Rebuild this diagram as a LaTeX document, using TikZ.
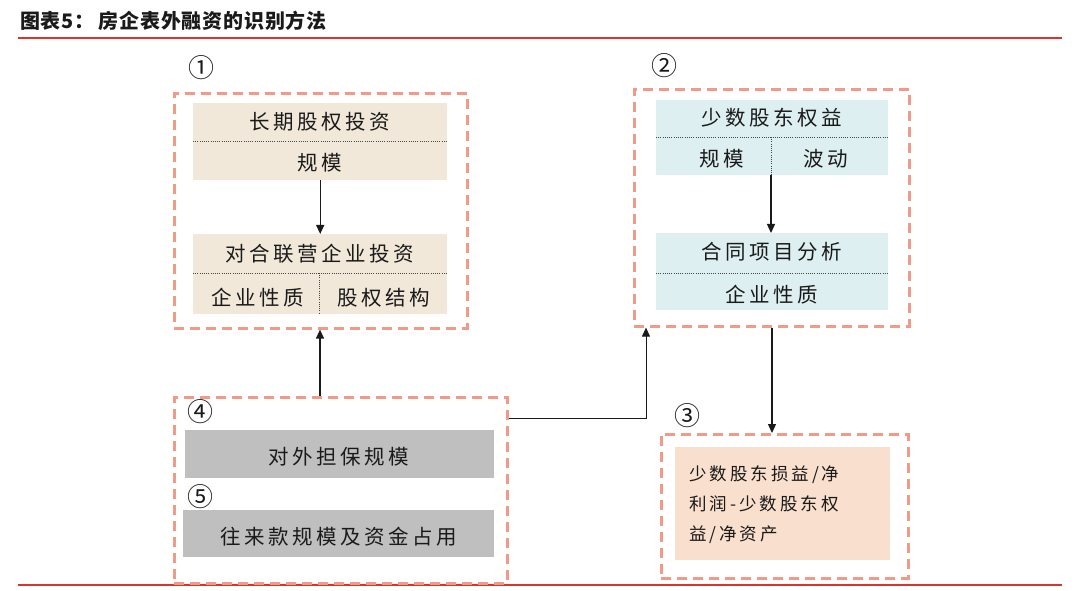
\documentclass[tikz,border=0pt]{standalone}
\usepackage{fontspec}
\setmainfont{Noto Sans CJK SC}
\newfontfamily\cjk{Noto Sans CJK SC}
\newfontfamily\cjkt{Noto Sans CJK SC}[LetterSpace=4]
\newfontfamily\cjkw{Noto Sans CJK SC}[LetterSpace=17]
\usetikzlibrary{arrows.meta}
\definecolor{redline}{HTML}{D9352B}
\definecolor{dashc}{HTML}{F09A88}
\definecolor{beige}{HTML}{F1E8DA}
\definecolor{lblue}{HTML}{DDEFF1}
\definecolor{lgray}{HTML}{BFBFBF}
\definecolor{peach}{HTML}{F9DFCD}
\definecolor{txt}{HTML}{1A1A1A}
\tikzset{
  grp/.style={draw=dashc, line width=2.6pt, dash pattern=on 10pt off 6pt},
  blk/.style={draw=none, inner sep=0pt},
  lbl/.style={font=\cjkw\fontsize{20.5}{23}\selectfont, text=txt, inner sep=0pt},
  num/.style={font=\cjk\fontsize{26}{28}\selectfont, text=txt, inner sep=0pt},
  dotl/.style={draw=txt!80, line width=0.9pt, dash pattern=on 1pt off 1.2pt},
  arr/.style={draw=txt, line width=1.3pt, -{Triangle[length=9pt,width=8pt]}},
}
\begin{document}
\begin{tikzpicture}[x=1pt,y=-1pt]
\useasboundingbox (0,0) rectangle (1080,591);
% title
\node[anchor=west, inner sep=0pt, text=txt, font=\cjkt\bfseries\fontsize{20}{22}\selectfont] (title) at (20,21) {图表5：\hspace{4pt}房企表外融资的识别方法};
\draw[redline, line width=1.6pt] (18,38) -- (1062,38);
\draw[redline, line width=1.6pt] (18,585) -- (1062,585);

% group 1
\node[grp, minimum width=293pt, minimum height=235pt, anchor=north west, inner sep=0pt] (g1) at (173,92) {};
\node[num] (n1) at (201,68) {①};
\fill[beige] (193,103) rectangle (447,180);
\node[blk, minimum width=254pt, minimum height=77pt, anchor=north west] (b1) at (193,103) {};
\draw[dotl] (193,141) -- (447,141);
\node[lbl] (t1a) at (320,122) {长期股权投资};
\node[lbl] (t1b) at (320,163) {规模};
\fill[beige] (193,234) rectangle (447,314);
\node[blk, minimum width=254pt, minimum height=80pt, anchor=north west] (b2) at (193,234) {};
\draw[dotl] (193,273) -- (447,273);
\draw[dotl] (319,273) -- (319,314);
\node[lbl] (t2a) at (320,254) {对合联营企业投资};
\node[lbl] (t2b) at (258,298) {企业性质};
\node[lbl] (t2c) at (384,298) {股权结构};
\draw[arr] (b1.south) -- (b2.north);

% group 2
\node[grp, minimum width=275pt, minimum height=237pt, anchor=north west, inner sep=0pt] (g2) at (633,88) {};
\node[num] (n2) at (664,66) {②};
\fill[lblue] (656,100) rectangle (888,175);
\node[blk, minimum width=232pt, minimum height=75pt, anchor=north west] (b3) at (656,100) {};
\draw[dotl] (656,137) -- (888,137);
\draw[dotl] (771,137) -- (771,175);
\node[lbl] (t3a) at (772,118) {少数股东权益};
\node[lbl] (t3b) at (722,159) {规模};
\node[lbl] (t3c) at (826,159) {波动};
\fill[lblue] (656,233) rectangle (888,310);
\node[blk, minimum width=232pt, minimum height=77pt, anchor=north west] (b4) at (656,233) {};
\draw[dotl] (656,273) -- (888,273);
\node[lbl] (t4a) at (772,252) {合同项目分析};
\node[lbl] (t4b) at (772,295) {企业性质};
\draw[arr] (b3.south -| 771,0) -- (b4.north -| 771,0);

% group 4/5
\node[grp, minimum width=333pt, minimum height=186pt, anchor=north west, inner sep=0pt] (g4) at (173,396) {};
\node[num] (n4) at (200,412) {④};
\node[num] (n5) at (200,497) {⑤};
\node[blk, fill=lgray, minimum width=309pt, minimum height=48pt, anchor=north west] (b5) at (185,430) {};
\node[lbl] (t5) at (339,457) {对外担保规模};
\node[blk, fill=lgray, minimum width=311pt, minimum height=47pt, anchor=north west] (b6) at (183,510) {};
\node[lbl] (t6) at (339,537) {往来款规模及资金占用};

% group 3
\node[grp, minimum width=247pt, minimum height=144pt, anchor=north west, inner sep=0pt] (g3) at (660,433) {};
\node[num] (n3) at (687,416) {③};
\node[blk, fill=peach, minimum width=215pt, minimum height=113pt, anchor=north west] (b7) at (675,447) {};
\node[anchor=north west, inner sep=0pt, text=txt, align=left, font=\cjkw\fontsize{17.5}{30}\selectfont] (t7) at (689,465) {少数股东损益/净\\利润-少数股东权\\益/净资产};

% connectors
\draw[arr] (g4.north -| 320,0) -- (g1.south -| 320,0);
\coordinate (c1) at (646,418);
\draw[arr, line width=1pt] (g4.east |- c1) -- (c1) -- (g2.south -| c1);
\draw[arr] (g2.south -| 772,0) -- (g3.north -| 772,0);
\end{tikzpicture}
\end{document}
